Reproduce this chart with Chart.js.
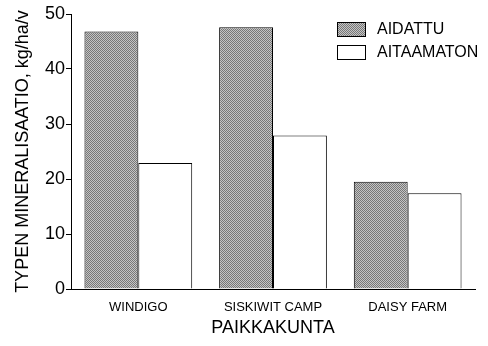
<!DOCTYPE html>
<html>
<head>
<meta charset="utf-8">
<script src="https://cdn.jsdelivr.net/npm/chart.js@4/dist/chart.umd.min.js"></script>
<style>
  body { margin: 0; background: #fff; }
  #wrap { width: 488px; height: 346px; }
</style>
</head>
<body>
<div id="wrap"><canvas id="myChart"></canvas></div>
<script>
const paikat = ["WINDIGO", "SISKIWIT CAMP", "DAISY FARM"];
const aidattu = [46.8, 47.6, 19.5];
const aitaamaton = [22.9, 27.9, 17.4];
const yTicks = [0, 10, 20, 30, 40, 50];

const fontti = "'Liberation Sans', Arial, sans-serif";

// harmaa rasterikuvio aidatuille pylväille
const teeKuvio = () => {
    const c = document.createElement("canvas");
    c.width = 2; c.height = 2;
    const g = c.getContext("2d");
    g.fillStyle = "#c4c4c4"; g.fillRect(0, 0, 2, 2);
    g.fillStyle = "#777"; g.fillRect(0, 0, 1, 1); g.fillRect(1, 1, 1, 1);
    return g.createPattern(c, "repeat");
};

const selite = {
    id: "selite",
    afterDraw(chart) {
        const ctx = chart.ctx;
        const x = 337;
        let y = 22;
        ctx.save();
        chart.data.datasets.forEach(ds => {
            ctx.fillStyle = ds.backgroundColor;
            ctx.fillRect(x, y, 29, 15);
            ctx.strokeStyle = "#000";
            ctx.lineWidth = 1;
            ctx.strokeRect(x + 0.5, y + 0.5, 28, 14);
            ctx.fillStyle = "#000";
            ctx.font = "16px " + fontti;
            ctx.textBaseline = "middle";
            ctx.fillText(ds.label, x + 40, y + 8);
            y += 23;
        });
        ctx.restore();
    }
};

const ctx = document.getElementById("myChart").getContext("2d");
new Chart(ctx, {
    type: "bar",
    data: {
        labels: paikat,
        datasets: [
            { label: "AIDATTU", data: aidattu, backgroundColor: teeKuvio(), borderColor: "#000", borderWidth: 1 },
            { label: "AITAAMATON", data: aitaamaton, backgroundColor: "#fff", borderColor: "#000", borderWidth: 1 }
        ]
    },
    options: {
        responsive: true,
        maintainAspectRatio: false,
        animation: false,
        layout: { padding: { top: 14, right: 13, left: 0, bottom: 0 } },
        datasets: { bar: { categoryPercentage: 0.8, barPercentage: 1 } },
        plugins: { legend: { display: false }, tooltip: { enabled: false } },
        scales: {
            x: {
                afterFit: axis => { axis.height = 57; },
                grid: { display: false },
                border: { color: "#000", width: 1 },
                ticks: { color: "#000", font: { family: fontti, size: 13 }, padding: 3 },
                title: { display: true, text: "PAIKKAKUNTA", color: "#000", font: { family: fontti, size: 18 }, padding: { top: 2, bottom: 7 } }
            },
            y: {
                min: 0,
                max: 50,
                afterFit: axis => { axis.width = 71; },
                afterBuildTicks: axis => { axis.ticks = yTicks.map(v => ({ value: v })); },
                grid: { drawOnChartArea: false, color: "#000", tickLength: 5 },
                border: { color: "#000", width: 1 },
                ticks: { color: "#000", font: { family: fontti, size: 18 }, padding: 1 },
                title: { display: true, text: "TYPEN MINERALISAATIO, kg/ha/v", color: "#000", font: { family: fontti, size: 18 }, padding: { top: 12, bottom: 0 } }
            }
        }
    },
    plugins: [selite]
});
</script>
</body>
</html>
